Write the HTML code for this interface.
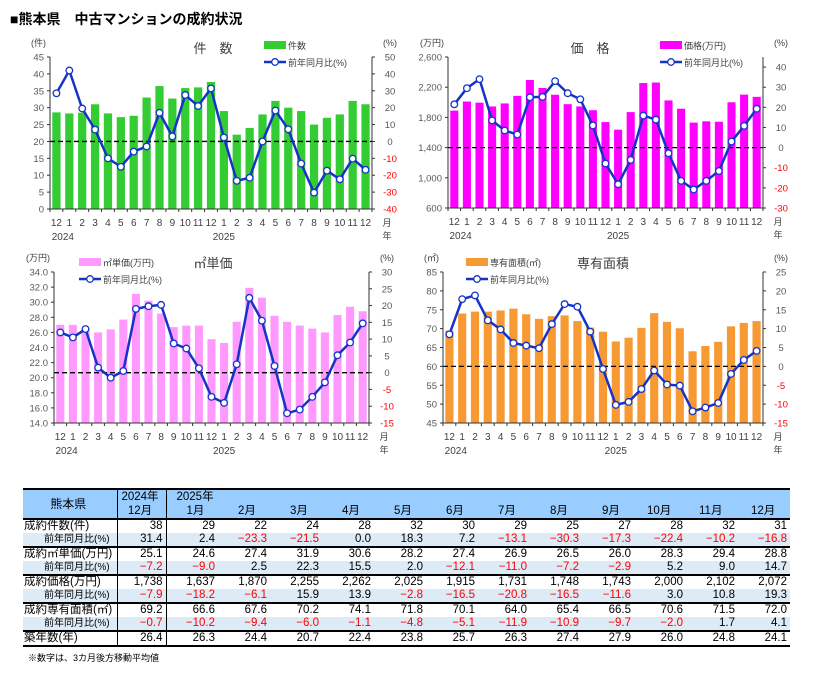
<!DOCTYPE html>
<html><head><meta charset="utf-8">
<style>
body{margin:0;background:#fff;width:814px;height:679px;overflow:hidden;font-family:"Liberation Sans","Noto Sans CJK JP",sans-serif;}
#title{position:absolute;left:10px;top:9px;font-size:14px;font-weight:bold;color:#000;}
svg{position:absolute;left:0;top:0;}
table{position:absolute;left:23px;top:488px;border-collapse:collapse;font-size:11.5px;color:#000;table-layout:fixed;}
td{padding:0 3px 0 0;height:13px;line-height:13px;text-align:right;white-space:nowrap;overflow:hidden;box-sizing:border-box;}
.h td{background:#9cf;height:14px;line-height:14px;}
.yy td{background:#ddebf7;}
.neg{color:#f00;}
.gl td{border-top:2px solid #000;}
.lab{text-align:left;padding-left:1px;}
.note{position:absolute;left:28px;top:651px;font-size:9px;}
</style></head><body>
<div id="title">■熊本県　中古マンションの成約状況</div>
<svg id="s" width="814" height="679" font-family="Liberation Sans, Noto Sans CJK JP, sans-serif"></svg>
<table id="t"></table>
<div class="note">※数字は、3カ月後方移動平均値</div>
<script>
const S=document.getElementById('s');let h='';
const months=['12','1','2','3','4','5','6','7','8','9','10','11','12','1','2','3','4','5','6','7','8','9','10','11','12'];
function chart(o){
 const {x0,x1,yT,yB,lmin,lmax,lstep,rmin,rmax,rstep,rtop,bars,yoy,col,fmt,title,tx,leg,lx,ly,unit}=o;
 const n=25,w=(x1-x0)/n;
 const Y=v=>yB-(v-lmin)/(lmax-lmin)*(yB-yT);
 const RY=v=>yB-(v-rmin)/(rtop-rmin)*(yB-yT);
 for(let i=0;i<n;i++){const bx=x0+i*w+w*0.18,by=Y(bars[i]);h+=`<rect x="${bx}" y="${by}" width="${w*0.64}" height="${yB-by}" fill="${col}"/>`;}
 h+=`<line x1="${x0}" y1="${RY(0)}" x2="${x1}" y2="${RY(0)}" stroke="#000" stroke-width="1.3" stroke-dasharray="5,3"/>`;
 h+=`<line x1="${x0}" y1="${yT}" x2="${x0}" y2="${yB}" stroke="#333"/><line x1="${x1}" y1="${yT}" x2="${x1}" y2="${yB}" stroke="#333"/><line x1="${x0}" y1="${yB}" x2="${x1}" y2="${yB}" stroke="#333"/>`;
 for(let v=lmin;v<=lmax+1e-9;v+=lstep){const y=Y(v);h+=`<line x1="${x0-3}" y1="${y}" x2="${x0}" y2="${y}" stroke="#333"/><text x="${x0-6}" y="${y+3.5}" font-size="9.5" fill="#595959" text-anchor="end">${fmt(v)}</text>`;}
 for(let v=rmin;v<=rmax+1e-9;v+=rstep){const y=RY(v);h+=`<line x1="${x1}" y1="${y}" x2="${x1+3}" y2="${y}" stroke="#333"/><text x="${x1+18}" y="${y+3.5}" font-size="9.5" fill="${v<0?'#f00':'#595959'}" text-anchor="middle">${v}</text>`;}
 for(let i=0;i<=n;i++){const x=x0+i*w;h+=`<line x1="${x}" y1="${yB}" x2="${x}" y2="${yB+3}" stroke="#333"/>`;}
 let p=yoy.map((v,i)=>`${x0+(i+.5)*w},${RY(v)}`).join(' ');
 h+=`<polyline points="${p}" fill="none" stroke="#1434c8" stroke-width="2.5"/>`;
 yoy.forEach((v,i)=>{h+=`<circle cx="${x0+(i+.5)*w}" cy="${RY(v)}" r="3.3" fill="#fff" stroke="#1434c8" stroke-width="1.3"/>`});
 months.forEach((m,i)=>{h+=`<text x="${x0+(i+.5)*w}" y="${yB+17}" font-size="10" fill="#404040" text-anchor="middle">${m}</text>`});
 h+=`<text x="${x0+1*w}" y="${yB+31}" font-size="10" fill="#404040" text-anchor="middle">2024</text><text x="${x0+13.5*w}" y="${yB+31}" font-size="10" fill="#404040" text-anchor="middle">2025</text>`;
 h+=`<text x="${x1+15}" y="${yB+17}" font-size="9" fill="#404040" text-anchor="middle">月</text><text x="${x1+15}" y="${yB+30}" font-size="9" fill="#404040" text-anchor="middle">年</text>`;
 h+=`<text x="${tx}" y="${yT-4}" font-size="13" fill="#404040" text-anchor="middle">${title}</text>`;
 h+=`<text x="${x0-4}" y="${yT-11}" font-size="9" fill="#404040" text-anchor="end">${unit}</text><text x="${x1+18}" y="${yT-11}" font-size="9" fill="#404040" text-anchor="middle">(%)</text>`;
 h+=`<rect x="${lx}" y="${ly-8}" width="22" height="8" fill="${col}"/><text x="${lx+24}" y="${ly}" font-size="9" fill="#404040">${leg}</text>`;
 h+=`<line x1="${lx}" y1="${ly+13}" x2="${lx+22}" y2="${ly+13}" stroke="#1434c8" stroke-width="2.5"/><circle cx="${lx+11}" cy="${ly+13}" r="3.3" fill="#fff" stroke="#1434c8" stroke-width="1.3"/><text x="${lx+24}" y="${ly+17}" font-size="9" fill="#404040">前年同月比(%)</text>`;
}
chart({x0:50,x1:372,yT:57,yB:209,lmin:0,lmax:45,lstep:5,rmin:-40,rmax:50,rstep:10,rtop:50,col:'#33cc33',fmt:v=>v,title:'件　数',tx:213,leg:'件数',lx:264,ly:49,unit:'(件)',
bars:[28.6,28.3,28.5,31,28.3,27.2,27.6,33,36.4,32.7,35.8,36,37.6,29,22,24,28,32,30,29,25,27,28,32,31],
yoy:[28.5,42,19.5,7,-10,-15,-6,-3,17,3,27.5,21,31.4,2.4,-23.3,-21.5,0,18.3,7.2,-13.1,-30.3,-17.3,-22.4,-10.2,-16.8]});
chart({x0:448,x1:763,yT:57,yB:208,lmin:600,lmax:2600,lstep:400,rmin:-30,rmax:40,rstep:10,rtop:45,col:'#ff00ff',fmt:v=>v.toLocaleString('en-US'),title:'価　格',tx:590,leg:'価格(万円)',lx:660,ly:49,unit:'(万円)',
bars:[1890,2010,1995,1945,1985,2085,2295,2190,2100,1975,1945,1895,1738,1637,1870,2255,2262,2025,1915,1731,1748,1743,2000,2102,2072],
yoy:[21.5,29.5,34,13.5,8.5,6.5,25,25.2,33,27,24,11,-7.9,-18.2,-6.1,15.9,13.9,-2.8,-16.5,-20.8,-16.5,-11.6,3,10.8,19.3]});
chart({x0:54,x1:369,yT:272,yB:423,lmin:14,lmax:34,lstep:2,rmin:-15,rmax:30,rstep:5,rtop:30,col:'#ff99ff',fmt:v=>v.toFixed(1),title:'㎡単価',tx:213,leg:'㎡単価(万円)',lx:79,ly:266,unit:'(万円)',
bars:[27,27,26.5,26,26.4,27.7,31.1,30.2,28.5,26.7,26.9,26.9,25.1,24.6,27.4,31.9,30.6,28.2,27.4,26.9,26.5,26,28.3,29.4,28.8],
yoy:[12,10.5,13,1.5,-1.5,0.5,19,19.8,20.2,8.7,7.2,1.3,-7.2,-9,2.5,22.3,15.5,2,-12.1,-11,-7.2,-2.9,5.2,9,14.7]});
chart({x0:443,x1:763,yT:272,yB:423,lmin:45,lmax:85,lstep:5,rmin:-15,rmax:25,rstep:5,rtop:25,col:'#f79a33',fmt:v=>v,title:'専有面積',tx:603,leg:'専有面積(㎡)',lx:466,ly:266,unit:'(㎡)',
bars:[69.5,74,74.5,74.5,74.8,75.3,73.8,72.6,73.3,73.5,72,70.3,69.2,66.6,67.6,70.2,74.1,71.8,70.1,64,65.4,66.5,70.6,71.5,72],
yoy:[8.5,17.8,18.8,12.2,9.8,6.2,5.5,4.8,11.2,16.5,15.8,9.2,-0.7,-10.2,-9.4,-6,-1.1,-4.8,-5.1,-11.9,-10.9,-9.7,-2,1.7,4.1]});
S.innerHTML=h;
const rows=[
['成約件数(件)','38','29','22','24','28','32','30','29','25','27','28','32','31'],
['　　前年同月比(%)','31.4','2.4','-23.3','-21.5','0.0','18.3','7.2','-13.1','-30.3','-17.3','-22.4','-10.2','-16.8'],
['成約㎡単価(万円)','25.1','24.6','27.4','31.9','30.6','28.2','27.4','26.9','26.5','26.0','28.3','29.4','28.8'],
['　　前年同月比(%)','-7.2','-9.0','2.5','22.3','15.5','2.0','-12.1','-11.0','-7.2','-2.9','5.2','9.0','14.7'],
['成約価格(万円)','1,738','1,637','1,870','2,255','2,262','2,025','1,915','1,731','1,748','1,743','2,000','2,102','2,072'],
['　　前年同月比(%)','-7.9','-18.2','-6.1','15.9','13.9','-2.8','-16.5','-20.8','-16.5','-11.6','3.0','10.8','19.3'],
['成約専有面積(㎡)','69.2','66.6','67.6','70.2','74.1','71.8','70.1','64.0','65.4','66.5','70.6','71.5','72.0'],
['　　前年同月比(%)','-0.7','-10.2','-9.4','-6.0','-1.1','-4.8','-5.1','-11.9','-10.9','-9.7','-2.0','1.7','4.1'],
['築年数(年)','26.4','26.3','24.4','20.7','22.4','23.8','25.7','26.3','27.4','27.9','26.0','24.8','24.1']];
let t='<colgroup><col style="width:94px"><col style="width:49px">'+'<col style="width:52px">'.repeat(12)+'</colgroup>';
t+='<tr class="h"><td rowspan="2" style="text-align:center;border-top:2px solid #000;border-right:1px solid #000;font-size:12px">熊本県</td><td style="text-align:center;border-top:2px solid #000;border-right:1px solid #000">2024年</td><td style="text-align:left;padding-left:10px;border-top:2px solid #000">2025年</td>'+'<td style="border-top:2px solid #000"></td>'.repeat(11)+'</tr>';
t+='<tr class="h"><td style="text-align:center;border-right:1px solid #000;height:15px;vertical-align:bottom">12月</td>';
for(let m=1;m<=12;m++)t+=`<td style="text-align:left;padding-left:${m<10?20:13}px;vertical-align:bottom">${m}月</td>`;t+='</tr>';
rows.forEach((r,i)=>{const yy=i%2==1&&i<8;let c=(yy?'yy':'')+(i%2==0?' gl':'');
 t+=`<tr class="${c}">`;r.forEach((v,j)=>{const neg=v[0]=='-';const s=j==0?'class="lab" style="border-right:1px solid #000'+(yy?';font-size:10px':'')+'"':(j==1?'style="border-right:1px solid #000"':'');t+=`<td ${s}${neg?' class="neg"':''}>${neg?'−'+v.slice(1):v}</td>`});t+='</tr>';});
t+='<tr><td colspan="14" style="border-top:2px solid #000;height:0;padding:0"></td></tr>';
document.getElementById('t').innerHTML=t;
</script>
</body></html>
